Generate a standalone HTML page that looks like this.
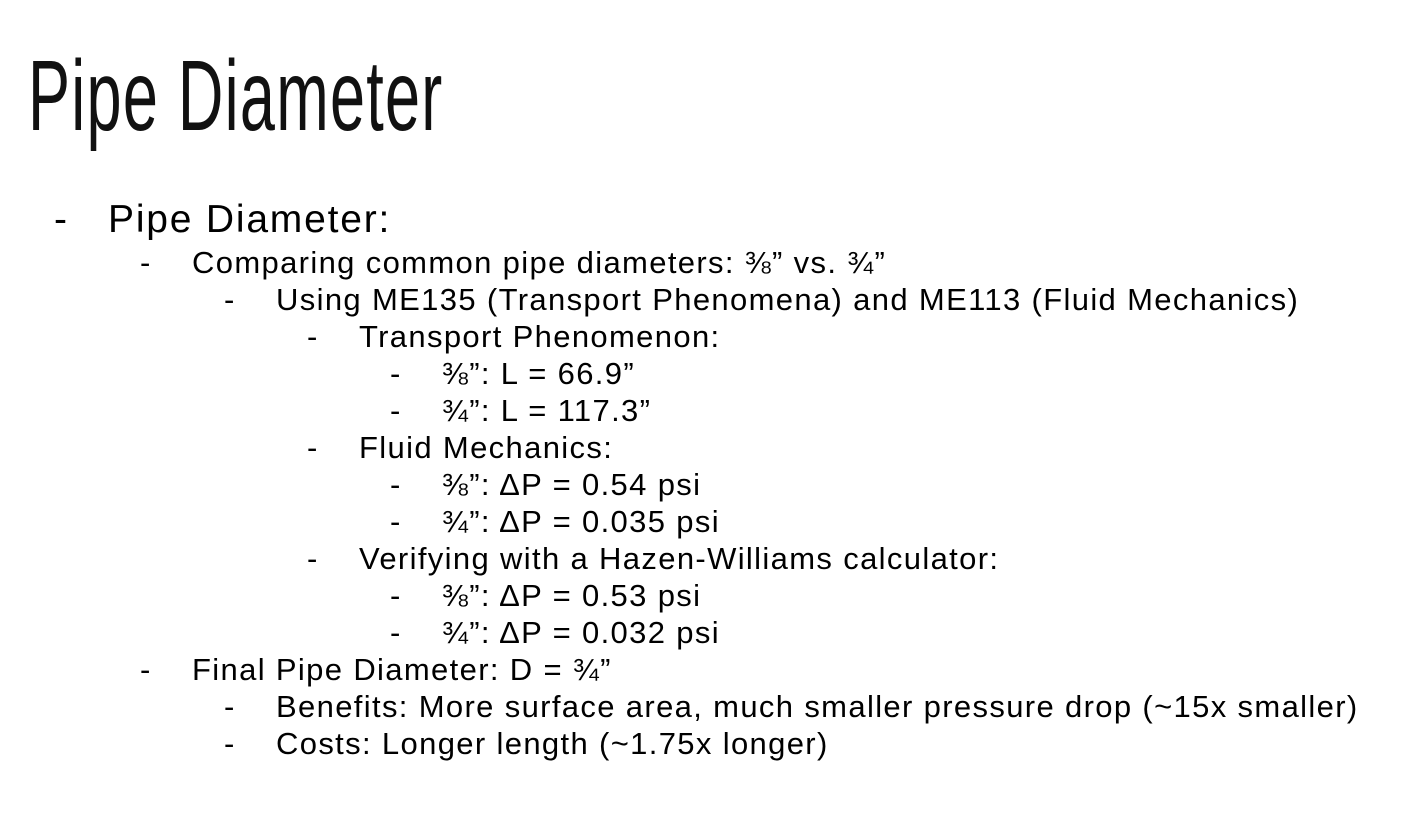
<!DOCTYPE html>
<html><head><meta charset="utf-8">
<style>
html,body{margin:0;padding:0;background:#fff;}
body{width:1415px;height:839px;position:relative;overflow:hidden;font-family:"Liberation Sans",sans-serif;color:#000;}
.title{position:absolute;left:28px;top:38px;font-size:100px;line-height:116px;transform:scaleX(0.63);transform-origin:left top;white-space:nowrap;letter-spacing:2px;color:#111;}
.l{position:absolute;white-space:nowrap;font-size:31px;line-height:37px;letter-spacing:1.35px;}
.d{position:absolute;white-space:nowrap;font-size:31px;line-height:37px;}
.l1{font-size:39px;line-height:44px;letter-spacing:1.8px;}
</style></head><body>
<div class="title">Pipe Diameter</div>

<div class="d l1" style="left:54px;top:198px">-</div>
<div class="l l1" style="left:108px;top:198px">Pipe Diameter:</div>

<div class="d" style="left:140px;top:244px">-</div>
<div class="l" style="left:192px;top:244px">Comparing common pipe diameters: ⅜” vs. ¾”</div>

<div class="d" style="left:224px;top:281px">-</div>
<div class="l" style="left:276px;top:281px">Using ME135 (Transport Phenomena) and ME113 (Fluid Mechanics)</div>

<div class="d" style="left:307px;top:318px">-</div>
<div class="l" style="left:359px;top:318px">Transport Phenomenon:</div>

<div class="d" style="left:390px;top:355px">-</div>
<div class="l" style="left:442px;top:355px">⅜”: L = 66.9”</div>

<div class="d" style="left:390px;top:392px">-</div>
<div class="l" style="left:442px;top:392px">¾”: L = 117.3”</div>

<div class="d" style="left:307px;top:429px">-</div>
<div class="l" style="left:359px;top:429px">Fluid Mechanics:</div>

<div class="d" style="left:390px;top:466px">-</div>
<div class="l" style="left:442px;top:466px">⅜”: ΔP = 0.54 psi</div>

<div class="d" style="left:390px;top:503px">-</div>
<div class="l" style="left:442px;top:503px">¾”: ΔP = 0.035 psi</div>

<div class="d" style="left:307px;top:540px">-</div>
<div class="l" style="left:359px;top:540px">Verifying with a Hazen-Williams calculator:</div>

<div class="d" style="left:390px;top:577px">-</div>
<div class="l" style="left:442px;top:577px">⅜”: ΔP = 0.53 psi</div>

<div class="d" style="left:390px;top:614px">-</div>
<div class="l" style="left:442px;top:614px">¾”: ΔP = 0.032 psi</div>

<div class="d" style="left:140px;top:651px">-</div>
<div class="l" style="left:192px;top:651px">Final Pipe Diameter: D = ¾”</div>

<div class="d" style="left:224px;top:688px">-</div>
<div class="l" style="left:276px;top:688px">Benefits: More surface area, much smaller pressure drop (~15x smaller)</div>

<div class="d" style="left:224px;top:725px">-</div>
<div class="l" style="left:276px;top:725px">Costs: Longer length (~1.75x longer)</div>
</body></html>
